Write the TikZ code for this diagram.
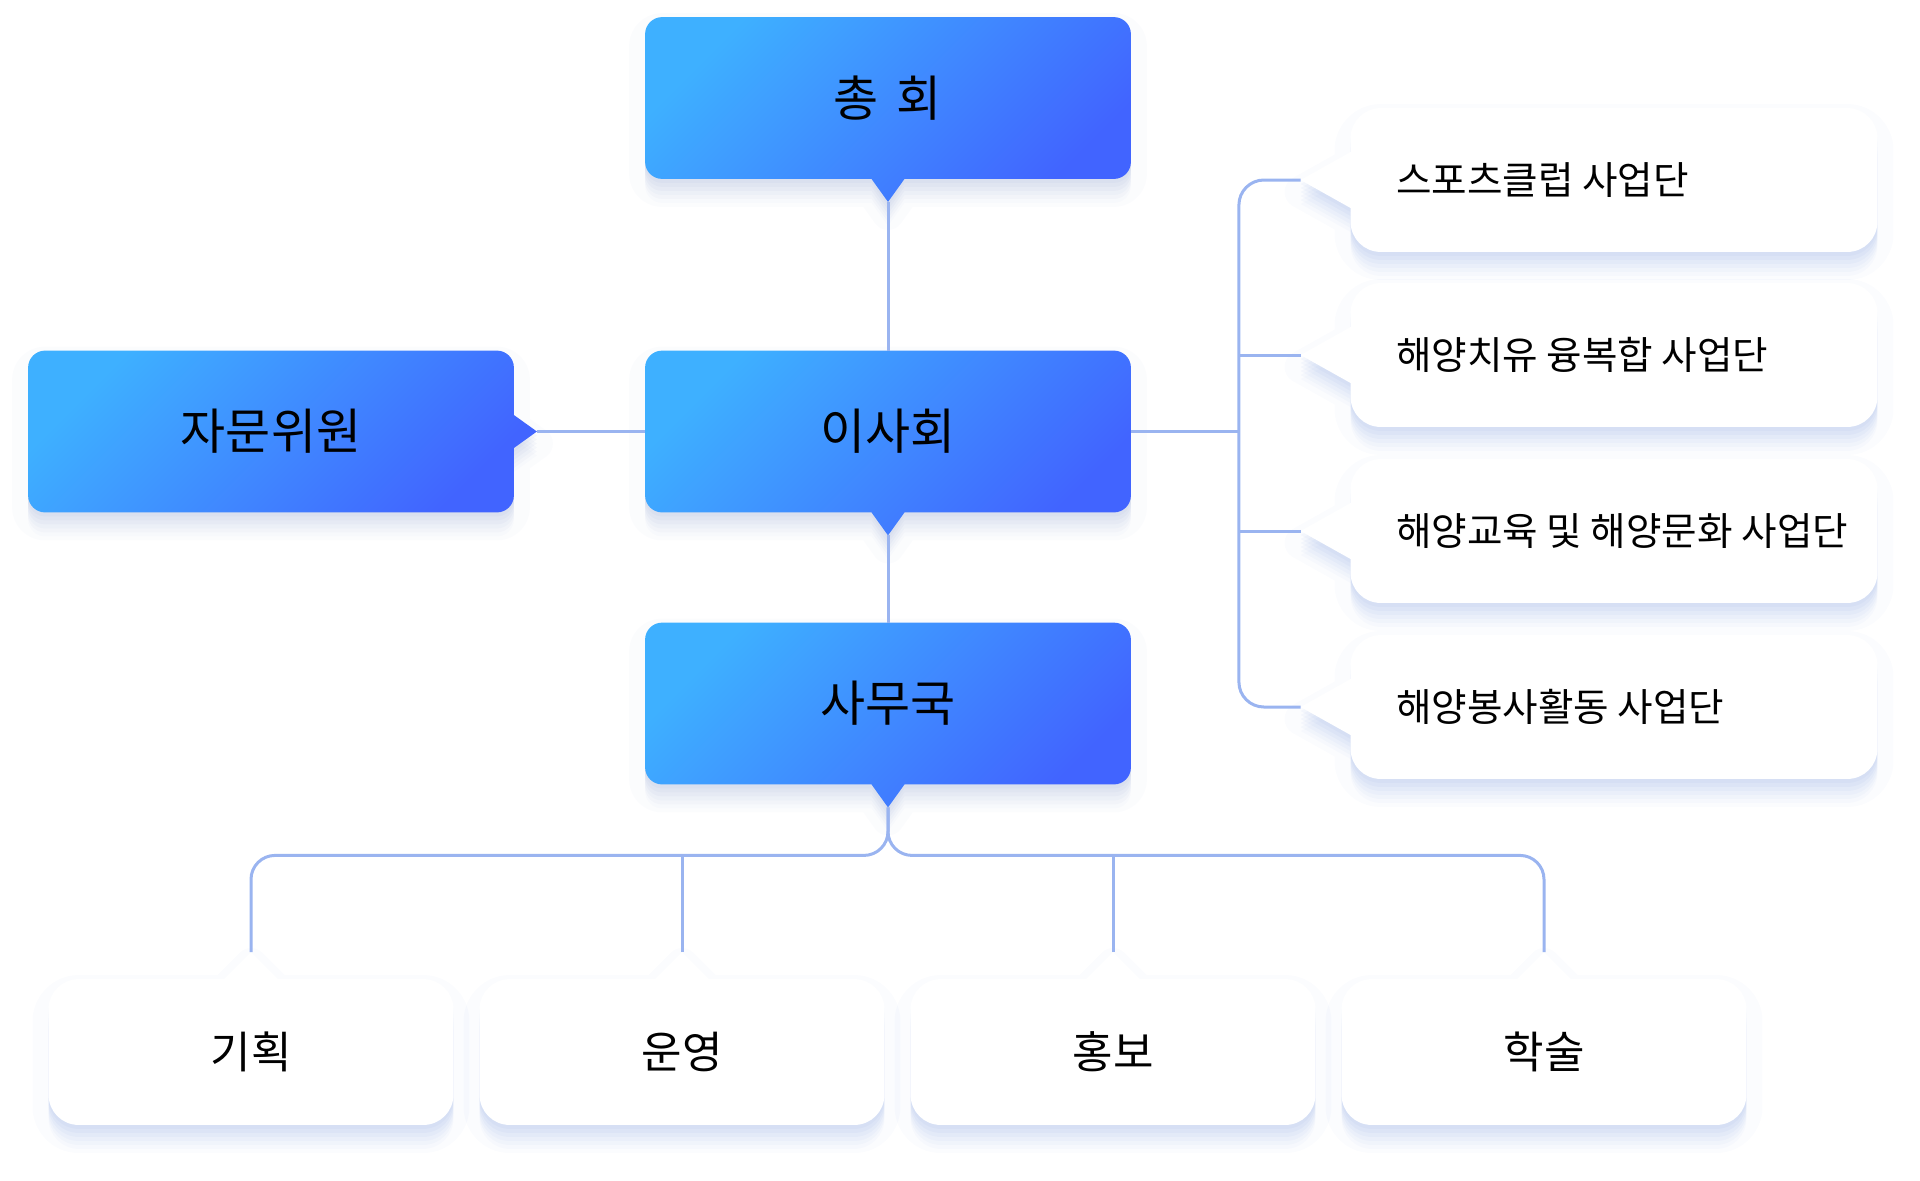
\documentclass[tikz,border=0pt]{standalone}
\usepackage{fontspec}
\setmainfont{Noto Sans CJK KR}
\usetikzlibrary{backgrounds}
\definecolor{skyblue}{HTML}{3EB0FF}
\definecolor{royalblue}{HTML}{4164FF}
\definecolor{linkblue}{HTML}{9AB4F0}
\definecolor{shadowblue}{HTML}{4A74D0}
\definecolor{shadowgray}{HTML}{5C78B8}

\begin{document}
\begin{tikzpicture}[
        x=0.5pt, y=-0.5pt,
        bluebox/.style={
            minimum width=242.5pt,
            minimum height=80.5pt,
            font=\fontsize{24.5pt}{30pt}\selectfont,
            execute at begin node={\lower1.5pt\hbox\bgroup},
            execute at end node={\egroup},
        },
        sidebox/.style={
            minimum height=71.5pt,
            inner xsep=22.5pt,
            font=\fontsize{19.3pt}{24pt}\selectfont,
            execute at begin node={\lower1.5pt\hbox to 218pt\bgroup},
            execute at end node={\hss\egroup},
        },
        subbox/.style={
            minimum width=202pt,
            minimum height=72.5pt,
            font=\fontsize{22pt}{28pt}\selectfont,
            execute at begin node={\lower2pt\hbox\bgroup},
            execute at end node={\egroup},
        },
        softshadow/.style={
            preaction={draw=#1, line width=16pt, line join=round,
                draw opacity=0.025, transform canvas={yshift=-6pt}},
            preaction={fill=#1, fill opacity=0.045, transform canvas={yshift=-2pt}},
            preaction={fill=#1, fill opacity=0.045, transform canvas={yshift=-4pt}},
            preaction={fill=#1, fill opacity=0.045, transform canvas={yshift=-6pt}},
            preaction={fill=#1, fill opacity=0.04, transform canvas={yshift=-8pt}},
            preaction={fill=#1, fill opacity=0.035, transform canvas={yshift=-10pt}},
            preaction={fill=#1, fill opacity=0.025, transform canvas={yshift=-12pt}},
        },
        bluefill/.style={
            softshadow=shadowgray,
            top color=skyblue,
            bottom color=royalblue,
            shading angle=45,
            rounded corners=8.5pt,
        },
        whitefill/.style={
            softshadow=shadowblue,
            fill=white,
            rounded corners=15pt,
        },
        link/.style={
            draw=linkblue,
            line width=1.5pt,
        },
    ]
    \useasboundingbox (0, 0) rectangle (1920, 1180);

    % governing bodies
    \node[bluebox] (chonghoe) at (888, 98) {총\hspace{9pt}회};
    \node[bluebox] (isahoe) at (888, 431.5) {이사회};
    \node[bluebox] (jamun) at (271, 431.5) {자문위원};
    \node[bluebox] (samuguk) at (888, 703.5) {사무국};

    % project groups
    \node[sidebox] (sports) at (1614, 180) {스포츠클럽 사업단};
    \node[sidebox] (healing) at (1614, 355) {해양치유 융복합 사업단};
    \node[sidebox] (edu) at (1614, 531) {해양교육 및 해양문화 사업단};
    \node[sidebox] (service) at (1614, 707) {해양봉사활동 사업단};

    % teams
    \node[subbox] (gihoek) at (251, 1052) {기획};
    \node[subbox] (unyeong) at (682, 1052) {운영};
    \node[subbox] (hongbo) at (1113, 1052) {홍보};
    \node[subbox] (haksul) at (1544, 1052) {학술};

    \begin{scope}[on background layer]
        \foreach \n in {chonghoe, isahoe, samuguk}
            \shade[bluefill] (\n.north west) rectangle (\n.south east)
                [sharp corners] ([xshift=-8.25pt]\n.south) -- ([yshift=-11.5pt]\n.south)
                -- ([xshift=8.25pt]\n.south) -- cycle;
        \shade[bluefill] (jamun.north west) rectangle (jamun.south east)
            [sharp corners] ([yshift=8.25pt]jamun.east) -- ([xshift=11.5pt]jamun.east)
            -- ([yshift=-8.25pt]jamun.east) -- cycle;
        \foreach \n in {sports, healing, edu, service}
            \fill[whitefill] (\n.north west) rectangle (\n.south east)
                [sharp corners] ([yshift=14pt]\n.west) -- ([xshift=-25pt]\n.west)
                -- ([yshift=-14pt]\n.west) -- cycle;
        \foreach \n in {gihoek, unyeong, hongbo, haksul}
            \fill[whitefill] (\n.north west) rectangle (\n.south east)
                [sharp corners] ([xshift=-13.5pt]\n.north) -- ([yshift=13.5pt]\n.north)
                -- ([xshift=13.5pt]\n.north) -- cycle;
    \end{scope}

    % pointer tips
    \coordinate (chonghoe tip) at ([yshift=-11.5pt]chonghoe.south);
    \coordinate (isahoe tip) at ([yshift=-11.5pt]isahoe.south);
    \coordinate (samuguk tip) at ([yshift=-11.5pt]samuguk.south);
    \coordinate (jamun tip) at ([xshift=11.5pt]jamun.east);
    \foreach \n in {sports, healing, edu, service}
        \coordinate (\n\space tip) at ([xshift=-25pt]\n.west);
    \foreach \n in {gihoek, unyeong, hongbo, haksul}
        \coordinate (\n\space tip) at ([yshift=13.5pt]\n.north);

    \coordinate (spine) at ([xshift=54pt]isahoe.east);
    \coordinate (bus) at ([yshift=-24pt]samuguk tip);

    \draw[link] (chonghoe tip) -- (isahoe);
    \draw[link] (jamun tip) -- (isahoe);
    \draw[link] (isahoe tip) -- (samuguk);

    \draw[link] (isahoe.east) -- (spine);
    \draw[link, rounded corners=12.5pt] (sports tip) -| (spine) |- (service tip);
    \draw[link] (healing tip) -- (healing tip -| spine);
    \draw[link] (edu tip) -- (edu tip -| spine);

    \draw[link, rounded corners=12pt] (samuguk tip) -- (bus) -| (gihoek tip);
    \draw[link, rounded corners=12pt] (samuguk tip) -- (bus) -| (haksul tip);
    \draw[link] (unyeong tip) -- (unyeong tip |- bus);
    \draw[link] (hongbo tip) -- (hongbo tip |- bus);
\end{tikzpicture}
\end{document}
